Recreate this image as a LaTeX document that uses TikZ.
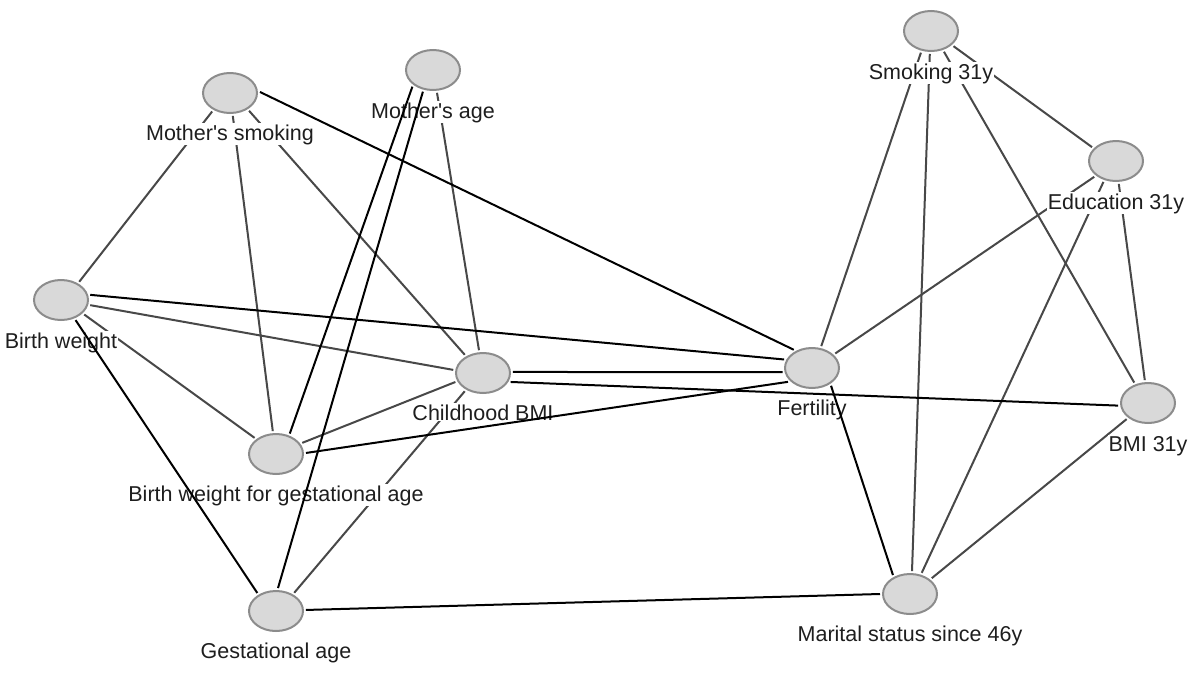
\documentclass[tikz,border=0pt]{standalone}
\usepackage{fontspec}
\setmainfont{Liberation Sans}
\usetikzlibrary{shapes.geometric}
\definecolor{ellgray}{HTML}{8C8C8C}
\definecolor{ellfill}{HTML}{D9D9D9}
\definecolor{edgegray}{HTML}{484848}
\definecolor{txt}{HTML}{1E1E1E}
\begin{document}
\begin{tikzpicture}[x=1pt,y=-1pt,
  var/.style={ellipse, draw=ellgray, fill=ellfill, line width=2pt, minimum width=54pt, minimum height=40pt, inner sep=0pt, outer sep=3pt},
  lab/.style={fill=white, inner sep=1pt, anchor=base, text=txt, font=\fontsize{21.5}{26}\selectfont},
  gedge/.style={draw=edgegray, line width=2pt},
  bedge/.style={draw=black, line width=2pt}]
\fill[white] (0,0) rectangle (1191,675);
\useasboundingbox (0,0) rectangle (1191,675);
% variables
\node[var] (ms) at (230,93) {};
\node[var] (ma) at (433,70) {};
\node[var] (s31) at (931,31) {};
\node[var] (e31) at (1116,161) {};
\node[var] (bw) at (61,300) {};
\node[var] (cb) at (483,373) {};
\node[var] (fe) at (812,368) {};
\node[var] (b31) at (1148,403) {};
\node[var] (bwga) at (276,454) {};
\node[var] (ga) at (276,611) {};
\node[var] (ms46) at (910,594) {};
% gray edges
\draw[gedge] (ms.226) -- (bw.45);
\draw[gedge] (ms.277) -- (bwga.98);
\draw[gedge] (ms.-43) -- (cb.135);
\draw[gedge] (ma.280) -- (cb.100);
\draw[gedge] (bw.-10) -- (cb.174);
\draw[gedge] (bw.-32) -- (bwga.143);
\draw[gedge] (bwga.23) -- (cb.198);
\draw[gedge] (cb.225) -- (ga.45);
\draw[gedge] (fe.67) -- (s31.245);
\draw[gedge] (fe.32) -- (e31.216);
\draw[gedge] (s31.267) -- (ms46.85);
\draw[gedge] (s31.302) -- (b31.124);
\draw[gedge] (s31.326) -- (e31.150);
\draw[gedge] (e31.239) -- (ms46.61);
\draw[gedge] (e31.277) -- (b31.98);
\draw[gedge] (b31.217) -- (ms46.36);
% labels
\node[lab] (lms) at (230,140) {Mother\textquotesingle s smoking};
\node[lab] (lma) at (433,118) {Mother\textquotesingle s age};
\node[lab] (ls31) at (931,79) {Smoking 31y};
\node[lab] (le31) at (1116,209) {Education 31y};
\node[lab] (lbw) at (61,348) {Birth weight};
\node[lab] (lcb) at (483,420) {Childhood BMI};
\node[lab] (lfe) at (812,415) {Fertility};
\node[lab] (lb31) at (1148,451) {BMI 31y};
\node[lab] (lbwga) at (276,501) {Birth weight for gestational age};
\node[lab] (lga) at (276,658) {Gestational age};
\node[lab] (lms46) at (910,641) {Marital status since 46y};
% black edges
\draw[bedge] (ms.2) -- (fe.135);
\draw[bedge] (ma.219) -- (bwga.56);
\draw[bedge] (ma.245) -- (ga.85);
\draw[bedge] (bw.10) -- (fe.163);
\draw[bedge] (bw.306) -- (ga.136);
\draw[bedge] (bwga.2) -- (fe.210);
\draw[bedge] (cb.2) -- (fe.188);
\draw[bedge] (cb.342) -- (b31.185);
\draw[bedge] (ga.2) -- (ms46.180);
\draw[bedge] (fe.317) -- (ms46.132);
\end{tikzpicture}
\end{document}
